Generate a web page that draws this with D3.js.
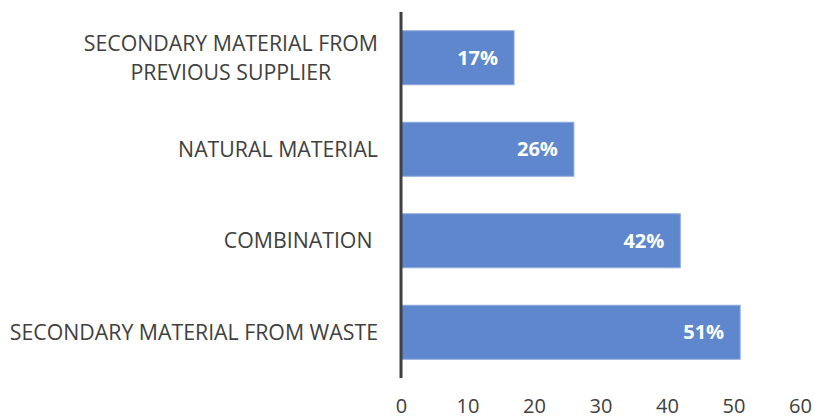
<!DOCTYPE html>
<html><head><meta charset="utf-8">
<script src="https://cdn.jsdelivr.net/npm/d3@7"></script>
<style>body{margin:0;background:#fff}svg{display:block}</style>
</head><body>
<svg id="c" width="814" height="418"></svg>
<script>
const categories = [["SECONDARY MATERIAL FROM","PREVIOUS SUPPLIER"],["NATURAL MATERIAL"],["COMBINATION "],["SECONDARY MATERIAL FROM WASTE"]];
const values = [17, 26, 42, 51];
const valueLabels = ["17%", "26%", "42%", "51%"];
const tickValues = [0, 10, 20, 30, 40, 50, 60];

const svg = d3.select("#c");
const font = "'Open Sans', sans-serif";
const x = d3.scaleLinear().domain([0, 60]).range([401, 800]);
const y = d3.scaleBand().domain(d3.range(categories.length)).range([12, 378]).paddingInner(0.41).paddingOuter(0.205);

svg.selectAll("rect.bar").data(values).join("rect")
  .attr("class","bar")
  .attr("x", x(0)).attr("y", (d,i)=>y(i))
  .attr("width", d=>x(d)-x(0)).attr("height", y.bandwidth())
  .attr("fill", "#5F87CD").attr("stroke","#8EA9DB").attr("stroke-width",1);

svg.selectAll("text.val").data(values).join("text")
  .attr("class","val")
  .attr("x", d=>x(d)-16).attr("y", (d,i)=>y(i)+y.bandwidth()/2)
  .attr("dy","0.36em").attr("text-anchor","end")
  .attr("fill","#fff").attr("font-family",font).attr("font-weight","bold").attr("font-size",20)
  .text((d,i)=>valueLabels[i]);

// category labels
const lab = svg.selectAll("g.cat").data(categories).join("g").attr("class","cat");
lab.each(function(lines,i){
  const g = d3.select(this);
  const cy = y(i)+y.bandwidth()/2;
  const lh = 29;
  const t = g.append("text").attr("font-family",font).attr("font-size",21.3).attr("fill","#404040")
    .style("white-space","pre");
  lines.forEach((l,j)=>{
    t.append("tspan").attr("y", cy + (j-(lines.length-1)/2)*lh).attr("dy","0.36em").text(l);
  });
  const tsp = t.selectAll("tspan").nodes();
  const widths = tsp.map(n=>n.getComputedTextLength());
  const maxW = d3.max(widths);
  const cx = 378 - maxW/2;
  tsp.forEach((n)=>d3.select(n).attr("x", cx).attr("text-anchor","middle"));
  if(lines.length===1){ d3.select(tsp[0]).attr("x",378).attr("text-anchor","end"); }
});

// vertical axis line
svg.append("line").attr("x1",x(0)).attr("x2",x(0)).attr("y1",12).attr("y2",378)
  .attr("stroke","#404040").attr("stroke-width",3);

// bottom axis
const ax = svg.append("g").attr("transform","translate(0,399)")
  .call(d3.axisBottom(x).tickValues(tickValues).tickSize(0).tickPadding(0));
ax.select(".domain").remove();
ax.selectAll("text").attr("font-family",font).attr("font-size",20).attr("fill","#404040").attr("dy","0.71em");
</script>
</body></html>
